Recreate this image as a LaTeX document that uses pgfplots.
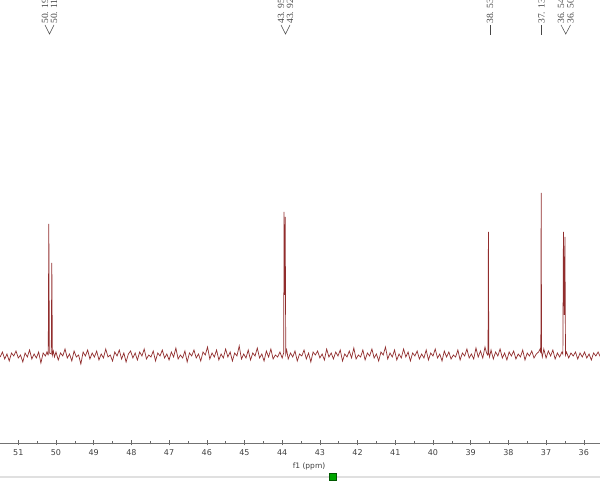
\documentclass[border=0pt]{standalone}
\usepackage{fontspec}
\usepackage{pgfplots}
\pgfplotsset{compat=1.18}
\newfontfamily\dejavu{DejaVu Sans}
\newfontfamily\lserif{Liberation Serif}
\definecolor{spec}{RGB}{145,45,45}
\definecolor{lbl}{RGB}{70,70,70}

\begin{document}
\begin{tikzpicture}
\begin{axis}[
    at={(0pt,0pt)}, anchor=south west,
    scale only axis,
    width=600pt, height=443pt,
    xmin=35.57, xmax=51.485, x dir=reverse,
    ymin=-88, ymax=355,
    axis x line*=bottom,
    hide y axis,
    xtick={36,...,51},
    minor x tick num=1,
    tick align=center,
    major tick length=5pt,
    minor tick length=3pt,
    x axis line style={black!55, line width=0.6pt},
    every tick/.style={black!60, line width=0.5pt},
    xticklabel style={font=\dejavu\fontsize{8}{9}\selectfont, text=black!75, yshift=-1pt},
    /pgf/number format/assume math mode=true,
]
\addplot[spec, line width=0.7pt] coordinates {
(51.48,-2) (51.42,3) (51.36,-4) (51.30,1) (51.24,-6) (51.18,2) (51.12,-1) (51.06,4)
(51.00,-3) (50.94,0) (50.88,-7) (50.82,2) (50.76,-2) (50.70,5) (50.64,-4) (50.58,1)
(50.52,-3) (50.46,3) (50.40,-8) (50.34,2) (50.28,-1) (50.24,3) (50.21,0)
(50.205,0) (50.19,131) (50.175,2) (50.125,1) (50.11,92) (50.095,0) (50.07,4) (50.04,-2)
(50.00,3) (49.94,-5) (49.88,2) (49.82,-1) (49.76,6) (49.70,-3) (49.64,1) (49.58,-6)
(49.52,4) (49.46,-2) (49.40,0) (49.34,-9) (49.28,3) (49.22,-1) (49.16,5) (49.10,-4)
(49.04,2) (48.98,-2) (48.92,4) (48.86,-5) (48.80,1) (48.74,-3) (48.68,6) (48.62,-2)
(48.56,0) (48.50,-6) (48.44,3) (48.38,-1) (48.32,5) (48.26,-4) (48.20,2) (48.14,-7)
(48.08,1) (48.02,4) (47.96,-3) (47.90,2) (47.84,-5) (47.78,3) (47.72,-1) (47.66,6)
(47.60,-4) (47.54,0) (47.48,-2) (47.42,4) (47.36,-6) (47.30,2) (47.24,-1) (47.18,5)
(47.12,-3) (47.06,1) (47.00,-5) (46.94,3) (46.88,-2) (46.82,7) (46.76,-4) (46.70,0)
(46.64,-3) (46.58,4) (46.52,-7) (46.46,2) (46.40,-1) (46.34,5) (46.28,-3) (46.22,1)
(46.16,-6) (46.10,3) (46.04,0) (45.98,8) (45.92,-4) (45.86,2) (45.80,-2) (45.74,5)
(45.68,-5) (45.62,1) (45.56,-3) (45.50,6) (45.44,-2) (45.38,3) (45.32,-6) (45.26,2)
(45.20,-1) (45.14,9) (45.08,-4) (45.02,1) (44.96,-3) (44.90,5) (44.84,-5) (44.78,2)
(44.72,-1) (44.66,7) (44.60,-3) (44.54,1) (44.48,-6) (44.42,4) (44.36,-2) (44.30,6)
(44.24,-4) (44.18,0) (44.12,-2) (44.06,3) (44.00,-3) (43.97,1)
(43.96,2) (43.95,143) (43.935,60) (43.92,138) (43.905,1) (43.88,5)
(43.84,-4) (43.78,2) (43.72,-2) (43.66,4) (43.60,-6) (43.54,1) (43.48,-1) (43.42,5)
(43.36,-4) (43.30,2) (43.24,-7) (43.18,3) (43.12,0) (43.06,4) (43.00,-3) (42.94,1)
(42.88,-5) (42.82,6) (42.76,-2) (42.70,2) (42.64,-4) (42.58,3) (42.52,-1) (42.46,5)
(42.40,-6) (42.34,1) (42.28,-2) (42.22,4) (42.16,-3) (42.10,7) (42.04,-4) (41.98,0)
(41.92,-2) (41.86,5) (41.80,-5) (41.74,2) (41.68,-1) (41.62,6) (41.56,-3) (41.50,1)
(41.44,-6) (41.38,3) (41.32,0) (41.26,8) (41.20,-4) (41.14,2) (41.08,-2) (41.02,5)
(40.96,-5) (40.90,1) (40.84,-3) (40.78,6) (40.72,-2) (40.66,3) (40.60,-6) (40.54,2)
(40.48,-1) (40.42,4) (40.36,-4) (40.30,1) (40.24,-3) (40.18,5) (40.12,-5) (40.06,2)
(40.00,-1) (39.94,6) (39.88,-3) (39.82,1) (39.76,-6) (39.70,4) (39.64,-2) (39.58,3)
(39.52,-4) (39.46,0) (39.40,-2) (39.34,5) (39.28,-5) (39.22,2) (39.16,-1) (39.10,6)
(39.04,-3) (38.98,1) (38.92,-4) (38.86,7) (38.80,-2) (38.74,4) (38.68,-3) (38.62,8)
(38.58,2) (38.55,0) (38.54,1) (38.53,123) (38.52,2) (38.50,-2)
(38.46,5) (38.40,-4) (38.34,3) (38.28,-1) (38.22,6) (38.16,-3) (38.10,2) (38.04,-5)
(37.98,3) (37.92,-1) (37.86,4) (37.80,-4) (37.74,1) (37.68,-2) (37.62,5) (37.56,-5)
(37.50,2) (37.44,-1) (37.38,4) (37.32,-3) (37.26,1) (37.20,3) (37.16,6) (37.14,2)
(37.13,162) (37.12,3) (37.10,-2) (37.06,6) (37.00,-3) (36.94,4) (36.88,-1) (36.82,5)
(36.76,-4) (36.70,2) (36.64,-2) (36.58,3) (36.555,1) (36.54,123) (36.52,40) (36.50,118)
(36.485,0) (36.46,3) (36.40,-3) (36.34,2) (36.28,-1) (36.22,3) (36.16,-4) (36.10,2)
(36.04,-2) (35.98,3) (35.92,-3) (35.86,1) (35.80,-5) (35.74,2) (35.68,-1) (35.62,3)
(35.56,-2)
};
\end{axis}
% axis label and scroll bar below the axis
\node[font=\dejavu\fontsize{7.5}{9}\selectfont, text=black!75] at (309pt,-23pt) {f1 (ppm)};
\draw[black!12, line width=2pt] (0pt,-34pt) -- (600pt,-34pt);
\filldraw[draw=green!35!black, fill=green!65!black, line width=0.6pt] (329.5pt,-37.5pt) rectangle (336.5pt,-30.5pt);
% peak labels at the top, cut by the top edge
\begin{scope}[lbl, line width=0.5pt]
  \foreach \x/\t in {45/50. 19, 54/50. 11, 281/43. 95, 290/43. 92, 490/38. 53, 541.5/37. 13, 561/36. 54, 570.5/36. 50}
    \node[font=\lserif\fontsize{9.5}{11}\selectfont, text=lbl, rotate=90, anchor=west, inner sep=0pt] at (\x pt,419pt) {\t};
  \draw (45pt,418pt) -- (49.5pt,409pt) -- (54pt,418pt);
  \draw (281pt,418pt) -- (285.5pt,409pt) -- (290pt,418pt);
  \draw (561pt,418pt) -- (565.75pt,409pt) -- (570.5pt,418pt);
  \draw (490pt,418pt) -- (490pt,408pt);
  \draw (541.5pt,418pt) -- (541.5pt,408pt);
\end{scope}
\pgfresetboundingbox
\useasboundingbox (0pt,-43pt) rectangle (600pt,443pt);
\end{tikzpicture}
\end{document}
